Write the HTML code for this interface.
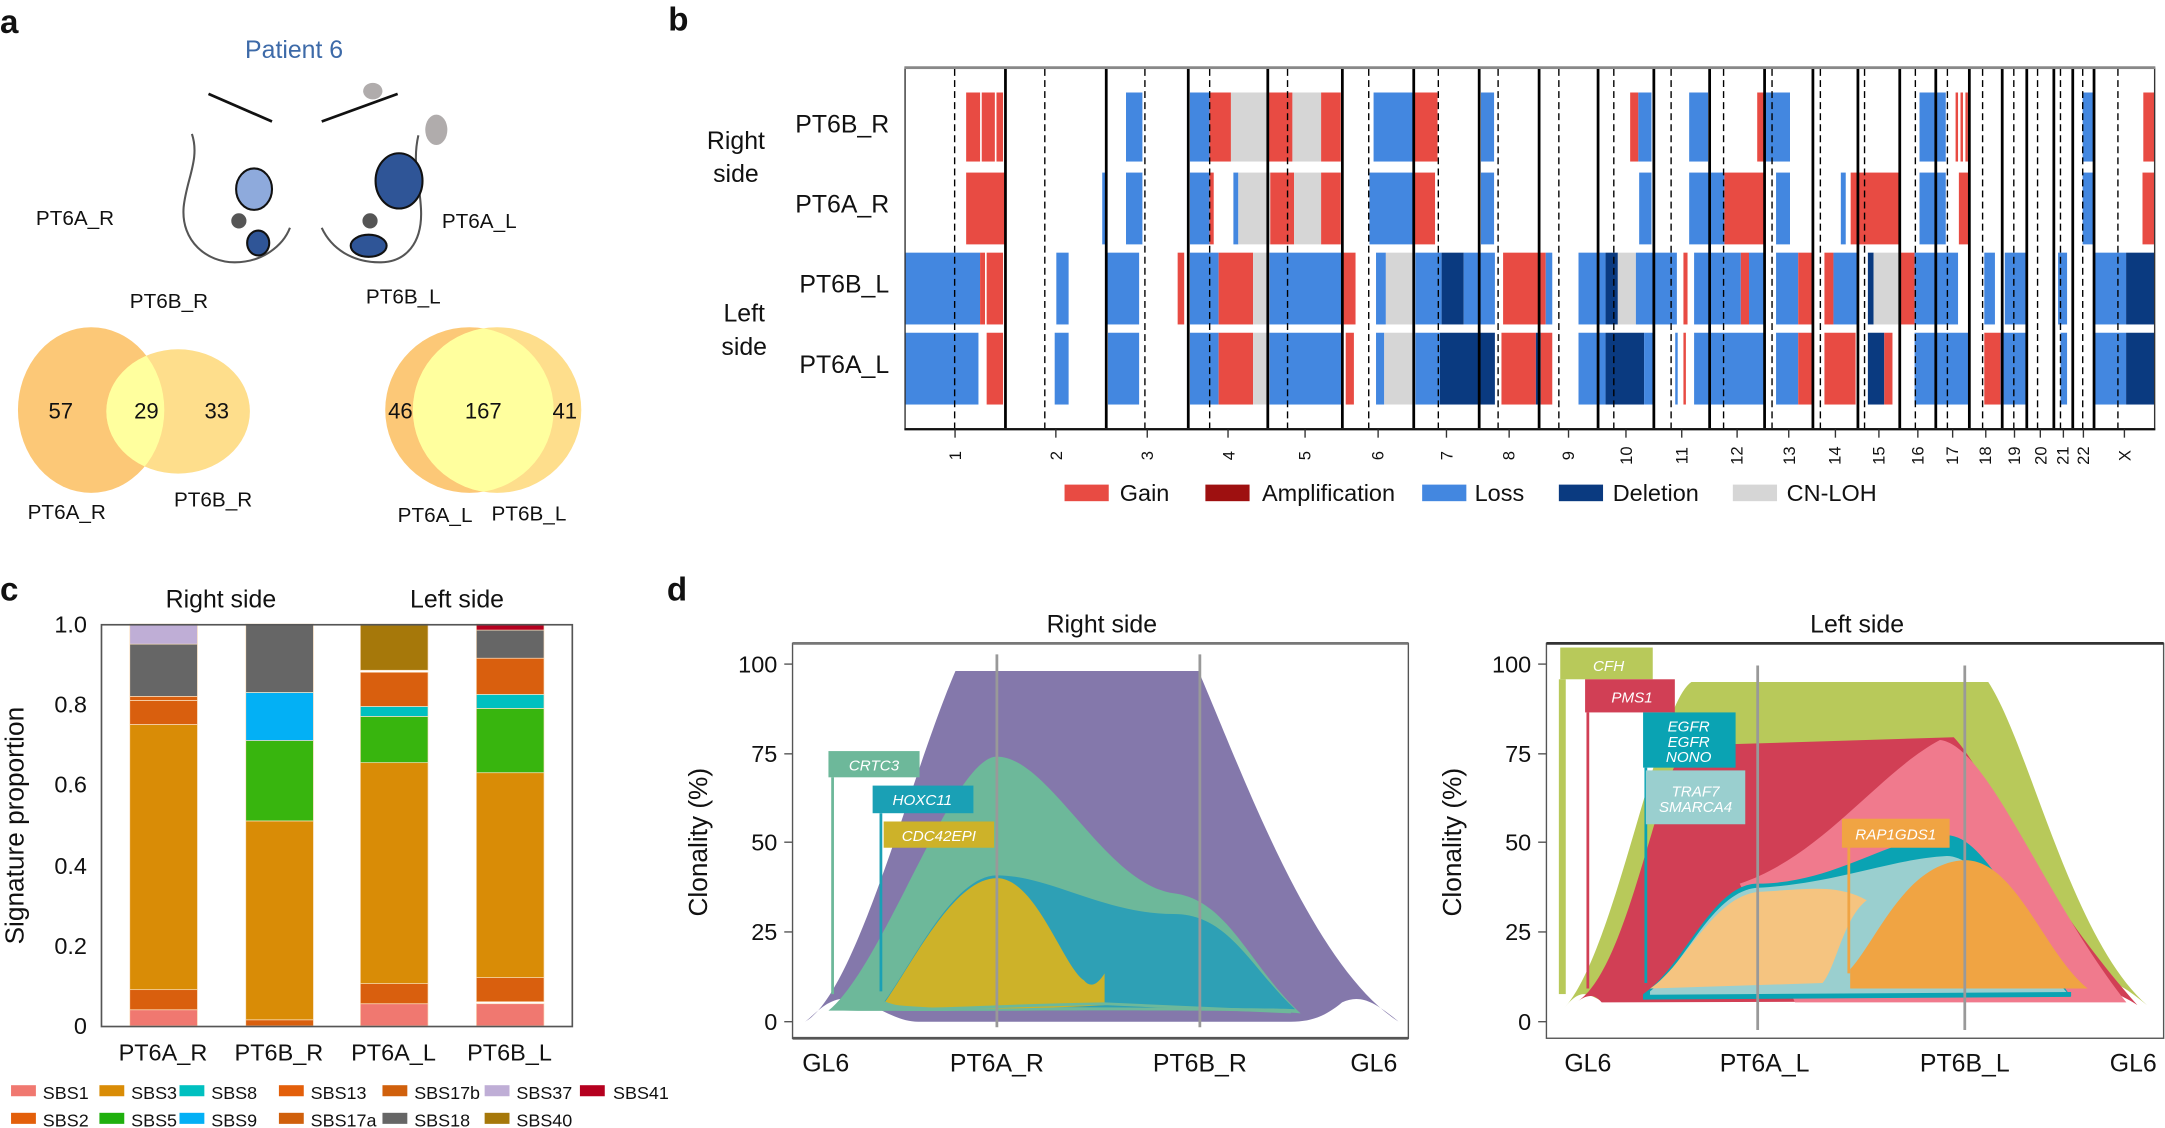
<!DOCTYPE html>
<html><head><meta charset="utf-8"><style>
html,body{margin:0;padding:0;background:#fff}
svg{display:block}
text{font-family:"Liberation Sans",sans-serif;fill:#111}
</style></head><body>
<svg id="s" width="2165" height="1128" viewBox="0 0 1568 817" preserveAspectRatio="none" xmlns="http://www.w3.org/2000/svg">
<!-- Panel a -->
<text x="0" y="24" font-size="24" font-weight="bold">a</text>
<text x="213" y="42" font-size="18" text-anchor="middle" style="fill:#3d6aa8">Patient 6</text>
<line x1="151" y1="68" x2="197" y2="88" stroke="#111" stroke-width="2"/>
<line x1="233" y1="88" x2="288" y2="68" stroke="#111" stroke-width="2"/>
<ellipse cx="270" cy="66" rx="7" ry="6" fill="#b0acac"/>
<ellipse cx="316" cy="94" rx="8" ry="11" fill="#b0acac"/>
<path d="M139,97 C145,115 135,130 133,150 C131,175 150,190 170,190 C190,190 205,178 210,165" fill="none" stroke="#555" stroke-width="1.5"/>
<path d="M233,165 C240,180 255,190 275,190 C295,190 305,175 305,155 C305,135 298,120 303,98" fill="none" stroke="#555" stroke-width="1.5"/>
<ellipse cx="184" cy="137" rx="13" ry="15" fill="#8eaadc" stroke="#111" stroke-width="1.5"/>
<ellipse cx="289" cy="131" rx="17" ry="20" fill="#2f5597" stroke="#111" stroke-width="1.5"/>
<circle cx="173" cy="160" r="5.5" fill="#555"/>
<circle cx="268" cy="160" r="5.5" fill="#555"/>
<ellipse cx="187" cy="176" rx="8" ry="9" fill="#2f5597" stroke="#111" stroke-width="1.5"/>
<ellipse cx="267" cy="178" rx="13" ry="8" fill="#2f5597" stroke="#111" stroke-width="1.5"/>
<text x="26" y="163" font-size="15">PT6A_R</text>
<text x="320" y="165" font-size="15">PT6A_L</text>
<text x="94" y="223" font-size="15">PT6B_R</text>
<text x="265" y="220" font-size="15">PT6B_L</text>
<defs>
<clipPath id="cA"><ellipse cx="66" cy="297" rx="53" ry="60"/></clipPath>
<clipPath id="cAL"><ellipse cx="340" cy="297" rx="61" ry="60"/></clipPath>
</defs>
<ellipse cx="66" cy="297" rx="53" ry="60" fill="#fcc877"/>
<ellipse cx="129" cy="298" rx="52" ry="45" fill="#fede8c"/>
<ellipse cx="129" cy="298" rx="52" ry="45" fill="#ffff9e" clip-path="url(#cA)"/>
<ellipse cx="340" cy="297" rx="61" ry="60" fill="#fcc877"/>
<ellipse cx="360" cy="297" rx="61" ry="60" fill="#fede8c"/>
<ellipse cx="360" cy="297" rx="61" ry="60" fill="#ffff9e" clip-path="url(#cAL)"/>
<g font-size="16" text-anchor="middle">
<text x="44" y="303">57</text><text x="106" y="303">29</text><text x="157" y="303">33</text>
<text x="290" y="303">46</text><text x="350" y="303">167</text><text x="409" y="303">41</text>
</g>
<g font-size="15">
<text x="20" y="376">PT6A_R</text><text x="126" y="367">PT6B_R</text>
<text x="288" y="378">PT6A_L</text><text x="356" y="377">PT6B_L</text>
</g>

<!-- Panel b -->
<text x="484" y="22" font-size="24" font-weight="bold">b</text>
<g font-size="18" text-anchor="middle">
<text x="533" y="108">Right</text><text x="533" y="132">side</text>
<text x="539" y="233">Left</text><text x="539" y="257">side</text>
</g>
<g font-size="18" text-anchor="end">
<text x="644" y="96">PT6B_R</text><text x="644" y="154">PT6A_R</text>
<text x="644" y="212">PT6B_L</text><text x="644" y="270">PT6A_L</text>
</g>
<g id="cn"></g>
<rect x="655.5" y="49.5" width="905" height="261" fill="none" stroke="#333" stroke-width="1"/>
<line x1="655" y1="49" x2="1561" y2="49" stroke="#888" stroke-width="2"/>
<line x1="655" y1="311" x2="1561" y2="311" stroke="#111" stroke-width="1.5"/>
<g id="chrl"></g>
<g font-size="12" id="chrt"></g>
<g font-size="17">
<rect x="771" y="351" width="32" height="12" fill="#e84b43"/><text x="811" y="363">Gain</text>
<rect x="873" y="351" width="32" height="12" fill="#9e1010"/><text x="914" y="363">Amplification</text>
<rect x="1030" y="351" width="32" height="12" fill="#4387e0"/><text x="1068" y="363">Loss</text>
<rect x="1129" y="351" width="32" height="12" fill="#0a3a80"/><text x="1168" y="363">Deletion</text>
<rect x="1255" y="351" width="32" height="12" fill="#d6d6d6"/><text x="1294" y="363">CN-LOH</text>
</g>

<!-- Panel c -->
<text x="0" y="435" font-size="24" font-weight="bold">c</text>
<text x="160" y="440" font-size="18" text-anchor="middle">Right side</text>
<text x="331" y="440" font-size="18" text-anchor="middle">Left side</text>
<g id="bars"></g>
<rect x="73.5" y="452.5" width="341" height="291" fill="none" stroke="#555" stroke-width="1.2"/>
<g font-size="17" text-anchor="end">
<text x="63" y="458">1.0</text><text x="63" y="516">0.8</text><text x="63" y="574">0.6</text>
<text x="63" y="633">0.4</text><text x="63" y="691">0.2</text><text x="63" y="749">0</text>
</g>
<text transform="translate(17,598) rotate(-90)" font-size="19" text-anchor="middle">Signature proportion</text>
<g font-size="17" text-anchor="middle">
<text x="118" y="768">PT6A_R</text><text x="202" y="768">PT6B_R</text>
<text x="285" y="768">PT6A_L</text><text x="369" y="768">PT6B_L</text>
</g>
<g font-size="13">
<rect x="8" y="786" width="18" height="8" fill="#f07870"/><text x="31" y="796">SBS1</text>
<rect x="72" y="786" width="18" height="8" fill="#d98c06"/><text x="95" y="796">SBS3</text>
<rect x="130" y="786" width="18" height="8" fill="#00c0c0"/><text x="153" y="796">SBS8</text>
<rect x="202" y="786" width="18" height="8" fill="#e35f0a"/><text x="225" y="796">SBS13</text>
<rect x="277" y="786" width="18" height="8" fill="#d0600c"/><text x="300" y="796">SBS17b</text>
<rect x="351" y="786" width="18" height="8" fill="#bfaed6"/><text x="374" y="796">SBS37</text>
<rect x="420" y="786" width="18" height="8" fill="#b5001f"/><text x="444" y="796">SBS41</text>
<rect x="8" y="806" width="18" height="8" fill="#e35f0a"/><text x="31" y="816">SBS2</text>
<rect x="72" y="806" width="18" height="8" fill="#1fb00e"/><text x="95" y="816">SBS5</text>
<rect x="130" y="806" width="18" height="8" fill="#03b0f5"/><text x="153" y="816">SBS9</text>
<rect x="202" y="806" width="18" height="8" fill="#d0600c"/><text x="225" y="816">SBS17a</text>
<rect x="277" y="806" width="18" height="8" fill="#666"/><text x="300" y="816">SBS18</text>
<rect x="351" y="806" width="18" height="8" fill="#a6780a"/><text x="374" y="816">SBS40</text>
</g>

<!-- Panel d -->
<text x="483" y="435" font-size="24" font-weight="bold">d</text>
<text x="798" y="458" font-size="18" text-anchor="middle">Right side</text>
<text x="1345" y="458" font-size="18" text-anchor="middle">Left side</text>
<!-- right plot -->
<rect x="574" y="466" width="446" height="286" fill="#fff" stroke="#555" stroke-width="1"/>
<line x1="574" y1="466" x2="1020" y2="466" stroke="#777" stroke-width="2"/>
<line x1="574" y1="752" x2="1020" y2="752" stroke="#555" stroke-width="2"/>
<path d="M583,740 C620,720 660,560 692,486 L868,486 C900,560 950,700 1013,740 C995,725 985,720 972,726 C960,736 950,740 935,740 L665,740 C645,740 628,722 612,723 C598,724 590,735 583,740 Z" fill="#8478ab"/>
<path d="M600,732 C640,700 690,548 722,548 C760,548 800,640 850,647 C890,652 905,700 942,734 C900,730 700,733 600,732 Z" fill="#6db89a"/>
<path d="M640,726 C660,700 690,634 722,634 C760,634 800,662 850,662 C890,662 905,700 938,731 C900,729 700,731 640,726 Z" fill="#2ea0b5"/>
<path d="M640,727 C660,700 690,636 722,636 C750,636 770,700 785,710 C790,716 795,713 800,705 L800,728 C750,731 680,732 640,727 Z" fill="#cdb229"/>
<path d="M640,726 C660,735 680,729 800,727 L935,733" fill="none" stroke="#6db89a" stroke-width="2"/>
<line x1="722" y1="474" x2="722" y2="744" stroke="#999" stroke-width="2"/>
<line x1="869" y1="474" x2="869" y2="744" stroke="#999" stroke-width="2"/>
<rect x="600" y="544" width="66" height="19" fill="#6db89a"/><line x1="603" y1="563" x2="603" y2="720" stroke="#6db89a" stroke-width="2"/>
<text x="633" y="558" font-size="11" font-style="italic" text-anchor="middle" style="fill:#fff">CRTC3</text>
<rect x="632" y="569" width="73" height="20" fill="#1aa0b5"/><line x1="638" y1="589" x2="638" y2="718" stroke="#1aa0b5" stroke-width="2"/>
<text x="668" y="583" font-size="11" font-style="italic" text-anchor="middle" style="fill:#fff">HOXC11</text>
<rect x="640" y="595" width="80" height="19" fill="#cdb229"/>
<text x="680" y="609" font-size="11" font-style="italic" text-anchor="middle" style="fill:#fff">CDC42EPI</text>
<g font-size="17" text-anchor="end">
<text x="563" y="487">100</text><text x="563" y="552">75</text><text x="563" y="616">50</text><text x="563" y="681">25</text><text x="563" y="746">0</text>
</g>
<g stroke="#555"><line x1="568" y1="481" x2="574" y2="481"/><line x1="568" y1="546" x2="574" y2="546"/><line x1="568" y1="610" x2="574" y2="610"/><line x1="568" y1="675" x2="574" y2="675"/><line x1="568" y1="740" x2="574" y2="740"/></g>
<text transform="translate(512,610) rotate(-90)" font-size="19" text-anchor="middle">Clonality (%)</text>
<g font-size="18" text-anchor="middle">
<text x="598" y="776">GL6</text><text x="722" y="776">PT6A_R</text><text x="869" y="776">PT6B_R</text><text x="995" y="776">GL6</text>
</g>
<!-- left plot -->
<rect x="1120" y="466" width="447" height="286" fill="#fff" stroke="#555" stroke-width="1"/>
<line x1="1120" y1="466" x2="1567" y2="466" stroke="#333" stroke-width="2"/>
<path d="M1133,730 C1170,690 1200,510 1225,494 L1440,494 C1470,540 1500,680 1555,728 C1540,716 1530,708 1515,710 C1505,712 1500,720 1490,725 L1160,725 C1150,720 1145,715 1133,730 Z" fill="#b8c95a"/>
<path d="M1143,725 C1180,700 1200,560 1222,540 L1415,534 C1440,560 1470,640 1548,728 C1520,710 1505,715 1495,725 L1160,726 C1155,720 1150,720 1143,725 Z" fill="#d13f55"/>
<path d="M1260,640 C1320,620 1360,560 1405,536 C1440,540 1480,650 1540,726 L1300,726 Z" fill="#f07a8d"/>
<path d="M1190,720 C1220,700 1240,640 1273,640 C1330,640 1370,605 1410,605 C1440,605 1470,680 1500,722 L1190,724 Z" fill="#0aa3b3"/>
<path d="M1195,718 C1220,700 1240,645 1273,643 C1330,640 1370,622 1410,620 C1440,620 1470,690 1498,720 L1195,722 Z" fill="#9acfcf"/>
<path d="M1195,716 C1220,700 1240,650 1273,646 C1310,644 1330,640 1352,652 C1335,665 1330,700 1320,712 L1195,716 Z" fill="#f5c480"/>
<path d="M1340,702 C1360,680 1380,625 1423,623 C1460,623 1480,690 1512,716 L1340,716 Z" fill="#f0a443"/>
<path d="M1190,722 L1500,720" stroke="#0aa3b3" stroke-width="3" fill="none"/>
<line x1="1273" y1="482" x2="1273" y2="746" stroke="#999" stroke-width="2"/>
<line x1="1423" y1="482" x2="1423" y2="746" stroke="#999" stroke-width="2"/>
<rect x="1130" y="469" width="67" height="23" fill="#b8c95a"/><rect x="1129" y="492" width="5" height="228" fill="#b8c95a"/>
<text x="1165" y="486" font-size="11" font-style="italic" text-anchor="middle" style="fill:#fff">CFH</text>
<rect x="1148" y="492" width="65" height="24" fill="#d13f55"/><line x1="1150" y1="516" x2="1150" y2="716" stroke="#d13f55" stroke-width="2"/>
<text x="1182" y="509" font-size="11" font-style="italic" text-anchor="middle" style="fill:#fff">PMS1</text>
<rect x="1190" y="516" width="67" height="40" fill="#0aa3b3"/><line x1="1192" y1="556" x2="1192" y2="712" stroke="#0aa3b3" stroke-width="2"/>
<text x="1223" y="530" font-size="11" font-style="italic" text-anchor="middle" style="fill:#fff">EGFR</text>
<text x="1223" y="541" font-size="11" font-style="italic" text-anchor="middle" style="fill:#fff">EGFR</text>
<text x="1223" y="552" font-size="11" font-style="italic" text-anchor="middle" style="fill:#fff">NONO</text>
<rect x="1192" y="558" width="72" height="39" fill="#9acfcf"/>
<text x="1228" y="577" font-size="11" font-style="italic" text-anchor="middle" style="fill:#fff">TRAF7</text>
<text x="1228" y="588" font-size="11" font-style="italic" text-anchor="middle" style="fill:#fff">SMARCA4</text>
<rect x="1334" y="593" width="78" height="21" fill="#f0a443"/><line x1="1339" y1="614" x2="1339" y2="705" stroke="#f0a443" stroke-width="2"/>
<text x="1373" y="608" font-size="11" font-style="italic" text-anchor="middle" style="fill:#fff">RAP1GDS1</text>
<g font-size="17" text-anchor="end">
<text x="1109" y="487">100</text><text x="1109" y="552">75</text><text x="1109" y="616">50</text><text x="1109" y="681">25</text><text x="1109" y="746">0</text>
</g>
<g stroke="#555"><line x1="1114" y1="481" x2="1120" y2="481"/><line x1="1114" y1="546" x2="1120" y2="546"/><line x1="1114" y1="610" x2="1120" y2="610"/><line x1="1114" y1="675" x2="1120" y2="675"/><line x1="1114" y1="740" x2="1120" y2="740"/></g>
<text transform="translate(1058,610) rotate(-90)" font-size="19" text-anchor="middle">Clonality (%)</text>
<g font-size="18" text-anchor="middle">
<text x="1150" y="776">GL6</text><text x="1278" y="776">PT6A_L</text><text x="1423" y="776">PT6B_L</text><text x="1545" y="776">GL6</text>
</g>
<g font-size="12" text-anchor="middle">
<text transform="translate(696,330) rotate(-90)">1</text>
<text transform="translate(769,330) rotate(-90)">2</text>
<text transform="translate(835,330) rotate(-90)">3</text>
<text transform="translate(894,330) rotate(-90)">4</text>
<text transform="translate(949,330) rotate(-90)">5</text>
<text transform="translate(1002,330) rotate(-90)">6</text>
<text transform="translate(1052,330) rotate(-90)">7</text>
<text transform="translate(1097,330) rotate(-90)">8</text>
<text transform="translate(1140,330) rotate(-90)">9</text>
<text transform="translate(1182,330) rotate(-90)">10</text>
<text transform="translate(1222,330) rotate(-90)">11</text>
<text transform="translate(1262,330) rotate(-90)">12</text>
<text transform="translate(1300,330) rotate(-90)">13</text>
<text transform="translate(1333,330) rotate(-90)">14</text>
<text transform="translate(1365,330) rotate(-90)">15</text>
<text transform="translate(1393,330) rotate(-90)">16</text>
<text transform="translate(1418,330) rotate(-90)">17</text>
<text transform="translate(1442,330) rotate(-90)">18</text>
<text transform="translate(1463,330) rotate(-90)">19</text>
<text transform="translate(1482,330) rotate(-90)">20</text>
<text transform="translate(1498,330) rotate(-90)">21</text>
<text transform="translate(1513,330) rotate(-90)">22</text>
<text transform="translate(1543,330) rotate(-90)">X</text>
</g>
</svg>
<script>
(function(){
var NS="http://www.w3.org/2000/svg";
function el(p,t,a){var e=document.createElementNS(NS,t);for(var k in a)e.setAttribute(k,a[k]);p.appendChild(e);return e;}
var C={r:"#e84b43",b:"#4387e0",n:"#0a3a80",g:"#d6d6d6",a:"#9e1010"};
function m(z){return 637.4+z*0.5937;}
var rows=[[67,117,[[105,122,'r'],[124,140,'r'],[142,150,'r'],[300,320,'b'],[378,402,'b'],[402,428,'r'],[428,474,'g'],[474,503,'r'],[503,538,'g'],[538,562,'r'],[602,650,'b'],[650,680,'r'],[733,749,'b'],[915,925,'r'],[925,941,'b'],[987,1010,'b'],[1070,1078,'r'],[1078,1110,'b'],[1268,1300,'b'],[1312,1315,'r'],[1318,1321,'r'],[1324,1327,'r'],[1467,1480,'b'],[1541,1555,'r']]],
[125,177,[[105,152,'r'],[271,275,'b'],[300,320,'b'],[378,402,'b'],[402,407,'r'],[431,437,'b'],[437,476,'g'],[476,500,'r'],[500,505,'r'],[505,538,'g'],[538,562,'r'],[597,650,'b'],[650,677,'r'],[733,749,'b'],[926,941,'b'],[987,1030,'b'],[1030,1078,'r'],[1093,1110,'b'],[1172,1178,'b'],[1184,1245,'r'],[1268,1300,'b'],[1316,1328,'r'],[1467,1480,'b'],[1540,1555,'r']]],
[183,235,[[30,122,'b'],[122,128,'r'],[130,150,'r'],[215,230,'b'],[276,316,'b'],[363,371,'r'],[378,413,'b'],[413,455,'r'],[455,475,'g'],[475,565,'b'],[565,580,'r'],[605,617,'b'],[617,653,'g'],[653,685,'b'],[685,712,'n'],[712,750,'b'],[760,812,'r'],[812,820,'b'],[852,885,'b'],[885,900,'n'],[900,922,'g'],[922,972,'b'],[980,985,'r'],[993,1030,'b'],[1030,1050,'b'],[1050,1060,'r'],[1060,1080,'b'],[1093,1120,'b'],[1120,1138,'r'],[1152,1163,'r'],[1163,1192,'b'],[1205,1212,'n'],[1212,1245,'g'],[1245,1262,'r'],[1262,1315,'b'],[1347,1360,'b'],[1372,1400,'b'],[1437,1448,'b'],[1480,1520,'b'],[1520,1555,'n']]],
[241,293,[[30,120,'b'],[130,150,'r'],[213,230,'b'],[278,316,'b'],[378,413,'b'],[413,455,'r'],[455,475,'g'],[475,565,'b'],[568,578,'r'],[605,615,'b'],[615,653,'g'],[653,683,'b'],[683,750,'n'],[758,800,'r'],[800,806,'n'],[806,820,'r'],[852,885,'b'],[885,932,'n'],[932,945,'b'],[970,973,'b'],[980,983,'r'],[993,1030,'b'],[1030,1080,'b'],[1093,1120,'b'],[1120,1138,'r'],[1152,1190,'r'],[1205,1225,'n'],[1225,1235,'r'],[1262,1330,'b'],[1347,1367,'r'],[1367,1400,'b'],[1440,1448,'b'],[1480,1520,'b'],[1520,1555,'n']]]];
var g=document.getElementById('cn');
rows.forEach(function(r){r[2].forEach(function(s){var x1=m(s[0]),x2=m(s[1]);el(g,'rect',{x:x1,y:r[0],width:Math.max(0.8,x2-x1),height:r[1]-r[0],fill:C[s[2]]});});});
var sol=[728.2,801.2,860.6,918.2,972.2,1023.9,1071.3,1114.7,1157.4,1197.8,1238.2,1278,1313,1345.6,1375.9,1402,1426.3,1450.1,1467.9,1487.5,1501.2,1516.6];
var dash=[691.4,756.7,829.2,876.1,932.5,991.3,1041.7,1085,1129,1168.8,1210.3,1248.3,1283.4,1318.4,1350.4,1387.2,1410.4,1435.9,1458.5,1475.7,1492.3,1508.4,1533.9];
var L=document.getElementById('chrl');
sol.forEach(function(x){el(L,'line',{x1:x,y1:50,x2:x,y2:310,stroke:'#000','stroke-width':2});});
dash.forEach(function(x){el(L,'line',{x1:x,y1:50,x2:x,y2:310,stroke:'#000','stroke-width':1,'stroke-dasharray':'5,3'});});
var mids=[691.7,764.7,830.9,889.4,945.2,998.1,1047.6,1093,1136,1177.6,1218,1258.1,1295.5,1329.3,1360.8,1389,1414.2,1438.2,1459,1477.7,1494.4,1508.9,1538.6];
mids.forEach(function(x){el(L,'line',{x1:x,y1:311,x2:x,y2:317,stroke:'#333','stroke-width':1});});
var B=document.getElementById('bars');
var S1='#f07870',S3='#d98c06',OR='#d95f0e',S5='#38b50e',S9='#03b0f5',S8='#00c0c0',S18='#666',S37='#bfaed6',S40='#a6780a',S41='#b5001f';
var bars=[[94,[[0,.04,S1],[.04,.09,OR],[.09,.75,S3],[.75,.81,OR],[.81,.82,OR],[.82,.95,S18],[.95,1,S37]]],
[178,[[0,.015,OR],[.015,.51,S3],[.51,.71,S5],[.71,.83,S9],[.83,1,S18]]],
[261,[[0,.055,S1],[.055,.105,OR],[.105,.655,S3],[.655,.77,S5],[.77,.795,S8],[.795,.88,OR],[.885,1,S40]]],
[345,[[0,.055,S1],[.06,.12,OR],[.12,.63,S3],[.63,.79,S5],[.79,.825,S8],[.825,.915,OR],[.915,.985,S18],[.985,1,S41]]]];
function Y(v){return 743-291*v;}
bars.forEach(function(b){b[1].forEach(function(s){el(B,'rect',{x:b[0],y:Y(s[1]),width:49,height:Y(s[0])-Y(s[1]),fill:s[2],stroke:'#fbe0c0','stroke-width':0.5});});});
})();
</script>
</body></html>
